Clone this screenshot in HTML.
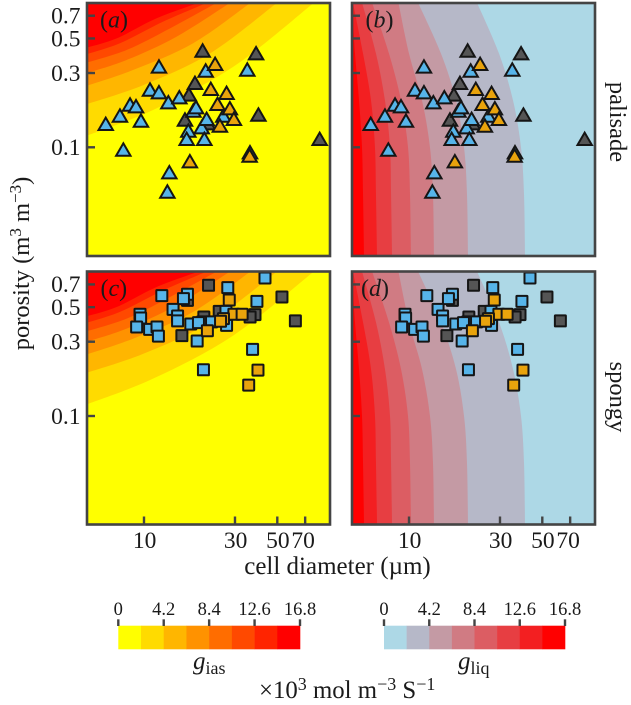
<!DOCTYPE html>
<html>
<head>
<meta charset="utf-8">
<style>
html,body{margin:0;padding:0;background:#fff;}
svg{display:block;font-family:"Liberation Serif",serif;fill:#1a1a1a;}
</style>
</head>
<body>
<svg id="chart" xmlns="http://www.w3.org/2000/svg" width="631" height="705" viewBox="0 0 631 705">
  <text transform="translate(29,263.5) rotate(-90)" text-anchor="middle" font-size="24.5">porosity (m<tspan dy="-8" font-size="17">3</tspan><tspan dy="8"> m</tspan><tspan dy="-8" font-size="17">−3</tspan><tspan dy="8">)</tspan></text>
  <text x="337.5" y="574" text-anchor="middle" font-size="25">cell diameter (µm)</text>
  <text transform="translate(610,122) rotate(90)" text-anchor="middle" font-size="24.5">palisade</text>
  <text transform="translate(610,397) rotate(90)" text-anchor="middle" font-size="24.5">spongy</text>
  <text x="193" y="669" font-size="25" font-style="italic">g<tspan dy="5" font-size="18" font-style="normal">ias</tspan></text>
  <text x="458" y="669" font-size="25" font-style="italic">g<tspan dy="5" font-size="18" font-style="normal">liq</tspan></text>
  <text x="259" y="698" font-size="24.8">×10<tspan dy="-8" font-size="18">3</tspan><tspan dy="8"> mol m</tspan><tspan dy="-8" font-size="18">−3</tspan><tspan dy="8"> S</tspan><tspan dy="-8" font-size="18">−1</tspan></text>
</svg>
<script>
// ---- axis tick labels ----
const xTicks = [10, 30, 50, 70];
const yTicks = [0.7, 0.5, 0.3, 0.1];
const colorbarTicks = ['0', '4.2', '8.4', '12.6', '16.8'];
const colorbarMax = 16.8;

// ---- g_ias contour levels: diameter (um) and porosity along each boundary, outermost first ----
const giasContourDiameter = [
  [5, 11.19, 29.4, 78],
  [5, 9.92, 22.2, 50],
  [5, 8.79, 18.1, 36.3],
  [5, 8.11, 14.8, 28.4],
  [5, 8.11, 13.7, 24.2],
  [5, 7.48, 12.6, 21.5],
  [5, 7.19, 11.65, 19.5]
];
const giasContourPorosity = [
  [0.117, 0.174, 0.329, 0.85],
  [0.187, 0.251, 0.401, 0.85],
  [0.245, 0.314, 0.466, 0.85],
  [0.296, 0.364, 0.513, 0.85],
  [0.346, 0.422, 0.581, 0.85],
  [0.392, 0.466, 0.641, 0.85],
  [0.432, 0.501, 0.674, 0.85]
];

// ---- g_liq contour levels: diameter (um) at each porosity, outermost first ----
const gliqPorosity = [0.02, 0.05, 0.1, 0.2, 0.4, 0.85];
const gliqContourDiameter = [
  [40.58, 40.09, 38.66, 35.11, 29.65, 22.72],
  [20.39, 20.14, 19.43, 17.64, 14.71, 11.15],
  [13.52, 13.36, 12.88, 11.70, 10.0, 8.80],
  [10.24, 10.12, 9.88, 9.08, 7.85, 6.40],
  [8.15, 8.05, 7.95, 7.48, 6.71, 5.67],
  [6.80, 6.71, 6.63, 6.32, 5.74, 5.08],
  [5.81, 5.74, 5.67, 5.47, 5.21, 5.02]
];

// ---- palisade cells (triangles) ----
const palisadeBlueDiameter = [11.98, 10.75, 11.98, 13.42, 15.32, 8.45, 9.08, 9.64, 7.48, 6.30, 7.79, 13.58, 13.26, 21.06, 34.8, 18.15, 18.74, 17.08, 16.74, 20.06, 20.72, 26.06, 35.96, 21.3];
const palisadeBluePorosity = [0.333, 0.2368, 0.2277, 0.1964, 0.2115, 0.1897, 0.185, 0.1497, 0.1612, 0.1425, 0.0975, 0.0697, 0.0524, 0.3137, 0.3184, 0.1736, 0.1824, 0.1291, 0.1142, 0.1357, 0.1142, 0.1612, 0.0937, 0.1535];
const palisadeGrayDiameter = [20.3, 38.7, 18.5, 17.2, 16.4, 21.6, 39.8, 83.4];
const palisadeGrayPorosity = [0.4217, 0.4055, 0.2614, 0.22, 0.152, 0.144, 0.1636, 0.1142];
const palisadeOrangeDiameter = [23.6, 22.4, 27.1, 24.3, 28.2, 29.6, 25.0, 17.4, 35.8];
const palisadeOrangePorosity = [0.3462, 0.2392, 0.2254, 0.1916, 0.1797, 0.1535, 0.139, 0.0821, 0.0892];

// ---- spongy cells (squares) ----
const spongyBlueDiameter = [43.1, 27.5, 12.4, 16.9, 16.1, 39.1, 14.2, 9.53, 9.6, 15.0, 15.0, 9.15, 10.7, 11.7, 11.9, 17.6, 19.0, 20.3, 22.6, 26.9, 27.1, 37.1, 20.5, 19.3];
const spongyBluePorosity = [0.77, 0.667, 0.593, 0.605, 0.567, 0.545, 0.484, 0.45, 0.426, 0.439, 0.408, 0.373, 0.36, 0.373, 0.326, 0.39, 0.303, 0.402, 0.402, 0.47, 0.382, 0.268, 0.198, 0.398];
const spongyGrayDiameter = [21.8, 52.9, 62.2, 38.2, 36.0, 15.8, 20.6, 24.8, 16.9];
const spongyGrayPorosity = [0.691, 0.581, 0.408, 0.448, 0.432, 0.328, 0.432, 0.47, 0.553];
const spongyOrangeDiameter = [28.0, 29.6, 32.7, 26.1, 25.2, 21.5, 39.6, 35.4];
const spongyOrangePorosity = [0.556, 0.45, 0.45, 0.422, 0.406, 0.353, 0.197, 0.158];

// ---- styling ----
const giasColors = ['#FFFF00', '#FFDB00', '#FFB600', '#FF9200', '#FF6D00', '#FF4900', '#FF2400', '#FF0000'];
const gliqColors = ['#ADD8E6', '#B6B8C8', '#C49AA4', '#D07B83', '#DC5D63', '#E73E42', '#F31F21', '#FF0000'];
const markerBlue = '#56B4E9', markerGray = '#555555', markerOrange = '#E9A30C';
const frameColor = '#444444';

const NS = 'http://www.w3.org/2000/svg';
const svg = document.getElementById('chart');
const PX_PER_DECADE_X = 190.7, PX_PER_DECADE_Y = 155.7;

function mk(tag, attrs, parent) {
  const el = document.createElementNS(NS, tag);
  for (const k in attrs) el.setAttribute(k, attrs[k]);
  (parent || svg).appendChild(el);
  return el;
}
function xScale(panel, d) { return panel.x10 + (Math.log10(d) - 1) * PX_PER_DECADE_X; }
function yScale(panel, p) { return panel.y01 - (Math.log10(p) + 1) * PX_PER_DECADE_Y; }

function smoothPath(pts) {
  let s = 'M' + pts[0][0].toFixed(2) + ' ' + pts[0][1].toFixed(2);
  for (let i = 0; i < pts.length - 1; i++) {
    const p0 = pts[Math.max(0, i - 1)], p1 = pts[i], p2 = pts[i + 1], p3 = pts[Math.min(pts.length - 1, i + 2)];
    const c1x = p1[0] + (p2[0] - p0[0]) / 6, c1y = p1[1] + (p2[1] - p0[1]) / 6;
    const c2x = p2[0] - (p3[0] - p1[0]) / 6, c2y = p2[1] - (p3[1] - p1[1]) / 6;
    s += 'C' + c1x.toFixed(2) + ' ' + c1y.toFixed(2) + ' ' + c2x.toFixed(2) + ' ' + c2y.toFixed(2) + ' ' + p2[0].toFixed(2) + ' ' + p2[1].toFixed(2);
  }
  return s;
}

function drawContours(panel, group) {
  const left = panel.left - 3, top = panel.top - 3;
  const colors = panel.field === 'gias' ? giasColors : gliqColors;
  const bg = mk('rect', { x: panel.left, y: panel.top, width: panel.w, height: panel.h, fill: colors[0] }, group);
  
  
  for (let k = 0; k < 7; k++) {
    let pts;
    if (panel.field === 'gias') {
      pts = giasContourDiameter[k].map((d, i) => [xScale(panel, d), yScale(panel, giasContourPorosity[k][i])]);
      pts[0][0] = left;
    } else {
      pts = gliqContourDiameter[k].map((d, i) => [xScale(panel, d), yScale(panel, gliqPorosity[i])]);
    }
    const last = pts[pts.length - 1];
    let dPath = smoothPath(pts) + 'L' + last[0].toFixed(2) + ' ' + top + 'L' + left + ' ' + top + 'L' + left + ' ' + pts[0][1].toFixed(2) + 'Z';
    const band = mk('path', { d: dPath, fill: colors[k + 1] }, group);
    
    
  }
}

function drawTriangles(panel, ds, ps, color, group, name) {
  ds.forEach((d, i) => {
    const x = xScale(panel, d), y = yScale(panel, ps[i]);
    const t = mk('path', {
      d: 'M' + x.toFixed(2) + ' ' + (y - 5.7).toFixed(2) + 'L' + (x + 7.2).toFixed(2) + ' ' + (y + 6.7).toFixed(2) + 'L' + (x - 7.2).toFixed(2) + ' ' + (y + 6.7).toFixed(2) + 'Z',
      fill: color, stroke: '#151515', 'stroke-width': 2, 'stroke-linejoin': 'miter'
    }, group);
    
    
  });
}
function drawSquares(panel, ds, ps, color, group, name) {
  ds.forEach((d, i) => {
    const x = xScale(panel, d), y = yScale(panel, ps[i]);
    const r = mk('rect', {
      x: (x - 5.5).toFixed(2), y: (y - 5.5).toFixed(2), width: 11, height: 11, rx: 0.6,
      fill: color, stroke: '#151515', 'stroke-width': 2
    }, group);
    
    
  });
}

const panels = [
  { id: 'panel-a', label: 'a', labelDx: 13, left: 87, top: 3, w: 243, h: 253, x10: 144, y01: 147.3, field: 'gias', marker: 'tri', yLabels: true, xTicks: false },
  { id: 'panel-b', label: 'b', labelDx: 13.5, left: 352, top: 3, w: 243, h: 253, x10: 409, y01: 147.3, field: 'gliq', marker: 'tri', yLabels: false, xTicks: false },
  { id: 'panel-c', label: 'c', labelDx: 13.5, left: 87, top: 271.5, w: 243, h: 253, x10: 144, y01: 416, field: 'gias', marker: 'sq', yLabels: true, xTicks: true },
  { id: 'panel-d', label: 'd', labelDx: 9, left: 352, top: 271.5, w: 243, h: 253, x10: 409, y01: 416, field: 'gliq', marker: 'sq', yLabels: false, xTicks: true }
];

const defs = mk('defs', {});
panels.forEach(panel => {
  const clip = mk('clipPath', { id: 'clip-' + panel.id }, defs);
  mk('rect', { x: panel.left, y: panel.top, width: panel.w, height: panel.h }, clip);

  const g = mk('g', {});
  
  

  const field = mk('g', { 'clip-path': 'url(#clip-' + panel.id + ')' }, g);
  
  
  drawContours(panel, field);

  const marks = mk('g', {}, g);
  
  
  if (panel.marker === 'tri') {
    drawTriangles(panel, palisadeGrayDiameter, palisadeGrayPorosity, markerGray, marks, 'palisade-gray-marker');
    drawTriangles(panel, palisadeBlueDiameter, palisadeBluePorosity, markerBlue, marks, 'palisade-blue-marker');
    drawTriangles(panel, palisadeOrangeDiameter, palisadeOrangePorosity, markerOrange, marks, 'palisade-orange-marker');
  } else {
    drawSquares(panel, spongyGrayDiameter, spongyGrayPorosity, markerGray, marks, 'spongy-gray-marker');
    drawSquares(panel, spongyBlueDiameter, spongyBluePorosity, markerBlue, marks, 'spongy-blue-marker');
    drawSquares(panel, spongyOrangeDiameter, spongyOrangePorosity, markerOrange, marks, 'spongy-orange-marker');
  }

  const frame = mk('rect', { x: panel.left, y: panel.top, width: panel.w, height: panel.h, fill: 'none', stroke: frameColor, 'stroke-width': 2.6 }, g);
  
  

  yTicks.forEach(v => {
    const y = yScale(panel, v);
    const tick = mk('line', { x1: panel.left, x2: panel.left + 8, y1: y, y2: y, stroke: frameColor, 'stroke-width': 2.4 }, g);
    
    
    if (panel.yLabels) {
      const lab = mk('text', { x: 80.5, y: y + 7.8, 'text-anchor': 'end', 'font-size': 23.5 }, g);
      lab.textContent = String(v);
      
      
    }
  });
  if (panel.xTicks) {
    xTicks.forEach(v => {
      const x = xScale(panel, v);
      const tick = mk('line', { x1: x, x2: x, y1: panel.top + panel.h, y2: panel.top + panel.h - 8, stroke: frameColor, 'stroke-width': 2.4 }, g);
      
      
      const lab = mk('text', { x: x + (v === 70 ? -2 : 0.6), y: 548, 'text-anchor': 'middle', 'font-size': 23.5 }, g);
      lab.textContent = String(v);
      
      
    });
  }

  const tag = mk('text', { x: panel.left + panel.labelDx, y: panel.top + 24.5, 'font-size': 24 }, g);
  
  
  tag.appendChild(document.createTextNode('('));
  const it = mk('tspan', { 'font-style': 'italic' }, tag);
  it.textContent = panel.label;
  tag.appendChild(document.createTextNode(')'));
});

// ---- colour bars ----
[
  { id: 'gias-colorbar', x0: 118.3, x1: 300, colors: giasColors },
  { id: 'gliq-colorbar', x0: 384, x1: 565, colors: gliqColors }
].forEach(cb => {
  const g = mk('g', {});
  
  
  const segW = (cb.x1 - cb.x0) / cb.colors.length;
  cb.colors.forEach((c, i) => {
    const seg = mk('rect', { x: cb.x0 + i * segW, y: 625.7, width: segW + 0.3, height: 23.6, fill: c }, g);
    
    
  });
  colorbarTicks.forEach(v => {
    const x = cb.x0 + (parseFloat(v) / colorbarMax) * (cb.x1 - cb.x0);
    const tick = mk('line', { x1: x, x2: x, y1: 619.3, y2: 626, stroke: frameColor, 'stroke-width': 2.4 }, g);
    
    
    const lab = mk('text', { x: x, y: 615, 'text-anchor': 'middle', 'font-size': 18.5 }, g);
    lab.textContent = v;
    
    
  });
});
</script>
</body>
</html>
